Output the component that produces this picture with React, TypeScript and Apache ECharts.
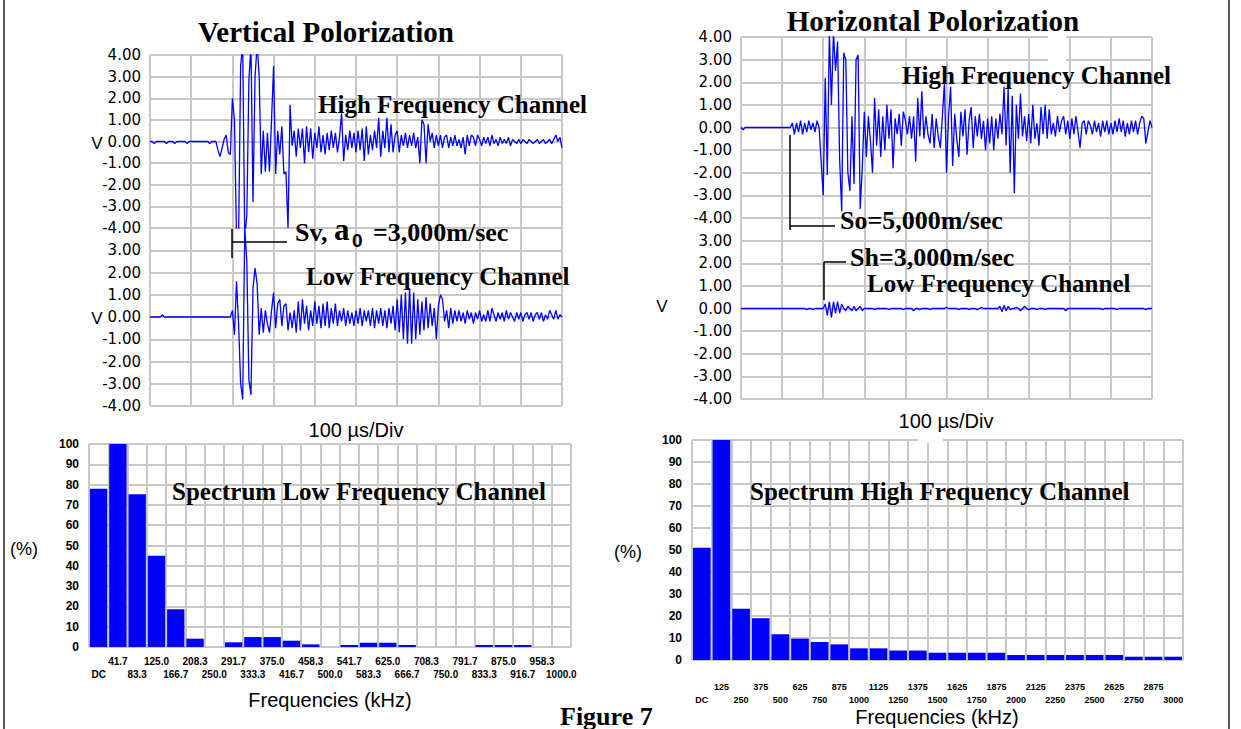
import React, { useEffect, useRef } from "react";
import * as echarts from "echarts";

// ---------- DATA ----------
const TIME_STEP_US = 5; // sample spacing of the waveforms (µs)

// Vertical polarization, high-frequency channel (V), one value every 5 µs, 0..1000 µs
const vertHighV = [
  0, 0, -0.1, 0, 0, 0, 0, 0, -0.1, 0,
  0, 0, -0.1, 0, 0, 0, 0, 0, -0.1, 0,
  0, 0, 0, 0, 0, 0, 0, 0, 0, -0.1,
  0, 0, 0, -0.4, -0.7, -0.3, 0.1, 0.3, -0.5, -0.6,
  2.0, 1.0, -4.5, -4.5, 3.5, 4.5, -4.5, -3.4, 2.8, 4.5,
  -2.8, 3.0, 4.5, 3.0, -1.5, 0.5, -1.4, 0.4, -1.4, 1.0,
  3.5, -1.5, 0.5, -0.6, 0.7, -1.5, -1.4, -4.0, 1.7, -0.2,
  0.5, -0.7, 0.6, -0.3, 0.6, -1.0, 0.7, -0.5, 0.6, -0.8,
  0.4, -0.3, 0.7, -0.5, 0.3, -0.6, 0.4, -0.4, 0.5, -0.3,
  0.4, -0.5, 0.2, 1.3, -0.9, 0.3, -0.4, 0.5, -0.3, 0.4,
  -0.5, 0.5, -0.4, 0.6, -0.9, 0.7, -0.6, 0.3, -0.4, 0.5,
  -0.3, 1.1, -0.7, 0.5, -0.3, 1.1, -0.5, 0.8, -0.5, 0.3,
  0.5, -0.5, 0.3, -0.2, 0.4, -0.3, 0.3, -0.2, 0.4, -0.3,
  0.2, -1.0, 1.0, 0.8, -1.0, 0.8, 0.0, 0.4, -0.3, 0.3,
  -0.2, 0.3, -0.3, 0.2, 0.3, -0.3, 0.2, -0.2, 0.3, -0.2,
  0.1, -0.3, 0.2, -0.6, 0.3, -0.2, 0.3, 0.2, -0.2, 0.3,
  0.1, -0.2, 0.2, -0.1, 0.2, -0.2, 0.3, -0.1, 0.1, -0.2,
  0.2, -0.1, 0.1, -0.1, 0.2, -0.2, 0.1, 0.0, -0.1, 0.1,
  -0.1, 0.1, 0.0, -0.1, 0.1, 0.0, -0.1, 0.0, 0.1, -0.1,
  0.0, 0.1, -0.1, 0.0, 0.1, -0.1, 0.1, 0.3, 0.0, 0.2,
  -0.3,
];

// Vertical polarization, low-frequency channel (V)
const vertLowV = [
  0, 0, 0, 0, 0, 0, 0.1, 0, 0, 0,
  0, 0, 0, 0, 0, 0, 0, 0, 0, 0,
  0, 0, 0, 0, 0, 0, 0, 0, 0, 0,
  0, 0, 0, 0, 0, 0, 0, 0, 0, 0,
  0.3, -0.8, 1.6, -0.3, -3.0, -3.7, 4.0, 2.5, -2.8, -3.5,
  1.3, 2.2, 1.5, -0.8, 0.4, -0.7, 0.3, -0.3, -0.7, 0.3,
  1.1, -0.5, 0.6, 0.8, -0.4, 0.5, 0.6, -0.6, 0.2, -0.5,
  0.3, -0.7, 0.7, -0.6, 0.8, -0.3, 0.5, -0.6, 0.3, -0.4,
  0.7, -0.3, 0.5, -0.5, 0.6, -0.4, 0.7, -0.5, 0.4, -0.3,
  0.6, -0.4, 0.3, -0.2, 0.4, -0.4, 0.3, -0.3, 0.2, -0.4,
  0.3, -0.3, 0.4, -0.4, 0.3, -0.2, 0.3, -0.4, 0.4, -0.5,
  0.3, -0.3, 0.4, -0.4, 0.3, -0.5, 0.4, -0.3, 0.5, -0.6,
  0.8, -0.7, 1.0, -1.0, 1.1, -1.2, 1.3, -1.2, 1.1, -1.0,
  0.8, -0.8, 0.7, -0.6, 0.9, -0.5, 0.6, -0.4, 0.4, -1.0,
  0.5, 1.0, 0.8, -0.2, 0.3, -0.5, 0.4, -0.3, 0.3, -0.2,
  0.3, -0.2, 0.2, -0.3, 0.3, -0.1, 0.2, -0.3, 0.2, -0.1,
  0.3, -0.2, 0.1, -0.2, 0.3, -0.2, 0.4, 0.1, -0.2, 0.2,
  -0.1, 0.2, -0.2, 0.3, -0.1, 0.2, 0.0, -0.2, 0.2, -0.1,
  0.2, -0.2, 0.1, 0.2, -0.1, 0.2, -0.2, 0.1, 0.2, -0.1,
  0.2, -0.2, 0.1, -0.1, 0.3, 0.1, -0.1, 0.3, -0.1, 0.1,
  0.0,
];

// Horizontal polarization, high-frequency channel (V)
const horzHighV = [
  0, -0.1, 0, 0, 0, 0, 0, 0, 0, 0,
  0, 0, 0, 0, 0, 0, 0, 0, 0, 0,
  0, 0, 0, 0, 0.0, 0.2, -0.3, 0.2, -0.2, 0.3,
  -0.3, 0.2, -0.2, 0.3, -0.1, 0.2, -0.2, 0.3, 0.0, -1.5,
  -3.0, 2.2, -2.1, 4.2, 1.0, 4.2, 2.5, 3.8, -1.4, -3.7,
  3.3, 3.0, -2.0, -2.8, 0.5, -2.5, 3.0, 3.2, -3.6, -1.8,
  0.7, -1.3, 0.5, -0.6, -2.0, 1.3, -0.8, 0.8, -1.3, 0.5,
  -1.0, 1.0, -0.5, 0.8, -1.8, 0.4, -0.3, 0.6, -0.8, 0.7,
  0.3, -0.3, 0.5, -0.5, 0.5, -1.5, 1.3, -0.4, 1.6, -0.5,
  0.5, -0.3, -0.7, 0.6, -0.9, 0.4, -0.4, -0.9, 0.5, 2.0,
  -2.0, 0.5, 1.8, -1.7, 0.6, -0.5, -1.3, 0.7, -0.4, 0.8,
  -1.2, 0.3, 0.9, -0.9, 0.5, -0.4, 0.6, -0.5, 0.3, -1.0,
  0.4, -0.7, 0.5, -1.0, 0.4, -0.5, 0.6, -0.3, 1.8, -0.8,
  1.7, -2.0, 1.4, -2.9, 1.0, -0.5, 1.5, -0.4, 0.5, -0.6,
  0.6, -0.7, 1.0, -0.5, 0.2, -0.8, 0.9, -0.3, 1.0, -0.5,
  0.8, -0.3, 0.2, -0.4, 0.5, -0.2, 0.3, 0.5, -0.3, 0.3,
  -0.5, 0.4, -0.3, 0.5, -0.2, -0.9, 0.2, 0.3, -0.3, 0.3,
  0.1, -0.3, 0.3, -0.2, 0.2, -0.4, 0.3, -0.2, 0.3, -0.3,
  0.2, -0.3, 0.3, -0.2, 0.4, -0.2, 0.3, -0.4, 0.2, -0.3,
  0.3, -0.2, 0.3, -0.3, 0.2, 0.5, 0.4, -0.7, -0.2, 0.3,
  0.0,
];

// Horizontal polarization, low-frequency channel (V)
const horzLowV = [
  0, 0, 0, 0, 0, 0, 0, 0, 0, 0,
  0, 0, 0, 0, 0, 0, 0, 0, 0, 0,
  0, 0, 0, 0, 0, 0, 0, 0, 0, 0,
  0, 0, -0.05, 0, 0, -0.05, 0, 0, 0, 0,
  0, 0.2, -0.3, 0.3, -0.4, 0.3, -0.2, 0.3, -0.2, 0.2,
  0, -0.1, 0.1, 0, -0.1, 0.1, -0.1, 0, 0.1, -0.1,
  0, 0, 0, 0, 0, -0.05, 0, 0, 0, 0,
  0, 0, -0.05, 0, 0, 0, 0, 0, 0, -0.05,
  0, 0, 0, 0, -0.1, 0, 0, -0.05, 0, 0,
  0, 0, -0.05, 0, 0, 0, 0, 0, 0, 0,
  0.05, 0, 0, 0, 0, 0, -0.05, 0, 0, 0,
  0, -0.05, 0, 0, 0, -0.05, 0, 0.05, 0, 0,
  0, 0, 0, 0, 0, 0, 0.1, -0.15, 0.15, -0.1,
  0.1, -0.05, 0, 0, 0.05, 0, -0.1, 0, 0.1, 0,
  -0.05, 0, 0, 0, -0.05, 0, 0, 0, -0.05, 0,
  0, 0, 0, 0, 0, 0, 0, 0, -0.1, 0,
  0, 0, 0, 0, 0, 0, 0, 0, 0, 0,
  0, 0, 0, 0, 0, 0, -0.05, 0, 0, 0,
  0, 0, 0, -0.05, 0, 0, 0, 0, 0, 0,
  0, 0, 0, 0, 0, 0, 0, -0.05, 0, 0,
  0,
];

// Spectrum of the low-frequency channel (%)
const lowFreqLabels = [
  "DC", "41.7", "83.3", "125.0", "166.7", "208.3", "250.0", "291.7", "333.3",
  "375.0", "416.7", "458.3", "500.0", "541.7", "583.3", "625.0", "666.7",
  "708.3", "750.0", "791.7", "833.3", "875.0", "916.7", "958.3", "1000.0",
];
const lowSpectrum = [
  78, 100, 75.3, 45, 18.6, 4.1, 0, 2.3, 4.9, 4.9, 3.1, 1.3, 0,
  1.0, 2.1, 2.1, 1.0, 0, 0, 0, 1.0, 1.0, 1.0, 0, 0,
];

// Spectrum of the high-frequency channel (%)
const highFreqLabels = [
  "DC", "125", "250", "375", "500", "625", "750", "875", "1000", "1125",
  "1250", "1375", "1500", "1625", "1750", "1875", "2000", "2125", "2250",
  "2375", "2500", "2625", "2750", "2875", "3000",
];
const highSpectrum = [
  51, 100, 23.3, 19, 11.7, 9.7, 8.2, 7.1, 5.3, 5.3, 4.3, 4.3, 3.3,
  3.3, 3.3, 3.3, 2.3, 2.3, 2.3, 2.3, 2.3, 2.3, 1.5, 1.5, 1.5,
];

// ---------- STYLE ----------
const BLUE = "#0000ff";
const GRID_COLOR = "#c8c8c8";
const SERIF_BOLD = '"Liberation Serif", "Times New Roman", serif';
const SANS = '"Liberation Sans", Arial, sans-serif';

function toPoints(values: number[]) {
  return values.map((v, i) => [i * TIME_STEP_US, v]);
}

function txt(text: string, x: number, y: number, font: string, align = "left", vAlign = "middle") {
  return {
    type: "text",
    x,
    y,
    z: 100,
    silent: true,
    style: {
      text,
      font,
      fill: "#000",
      textAlign: align,
      align,
      textVerticalAlign: vAlign,
      verticalAlign: vAlign,
    },
  };
}

function ln(x1: number, y1: number, x2: number, y2: number, color = "#000", w = 1.5) {
  return {
    type: "line",
    z: 100,
    silent: true,
    shape: { x1, y1, x2, y2 },
    style: { stroke: color, lineWidth: w },
  };
}

function waveX(gridIndex: number) {
  return {
    type: "value",
    gridIndex,
    min: 0,
    max: 1000,
    interval: 100,
    axisLabel: { show: false },
    axisLine: { show: false },
    axisTick: { show: false },
    splitLine: { show: true, lineStyle: { color: GRID_COLOR, width: 2 } },
  };
}

function waveY(gridIndex: number, hideTop: boolean) {
  return {
    type: "value",
    gridIndex,
    min: -4,
    max: 4,
    interval: 1,
    axisLine: { show: false },
    axisTick: { show: false },
    splitLine: { show: true, lineStyle: { color: GRID_COLOR, width: 2 } },
    axisLabel: {
      margin: 9,
      color: "#000",
      fontSize: 15,
      fontFamily: '"DejaVu Sans", sans-serif',
      formatter: (v: number) => (hideTop && v === 4 ? "" : v.toFixed(2)),
    },
  };
}

function barX(gridIndex: number, labels: string[], margin: number, fontSize: number) {
  return {
    type: "category",
    gridIndex,
    data: labels,
    boundaryGap: true,
    axisLine: { show: false },
    axisTick: { show: false },
    splitLine: { show: true, interval: 0, lineStyle: { color: GRID_COLOR, width: 2 } },
    axisLabel: {
      interval: 0,
      margin,
      color: "#000",
      fontSize,
      fontWeight: "bold",
      fontFamily: SANS,
      lineHeight: 13,
      formatter: (v: string, i: number) => (i % 2 === 1 ? v + "\n" : "\n" + v),
    },
  };
}

function barY(gridIndex: number) {
  return {
    type: "value",
    gridIndex,
    min: 0,
    max: 100,
    interval: 10,
    axisLine: { show: false },
    axisTick: { show: false },
    splitLine: { show: true, lineStyle: { color: GRID_COLOR, width: 2 } },
    axisLabel: { margin: 10, color: "#000", fontSize: 12, fontWeight: "bold", fontFamily: SANS },
  };
}

function lineSeries(idx: number, values: number[]) {
  return {
    type: "line",
    xAxisIndex: idx,
    yAxisIndex: idx,
    data: toPoints(values),
    showSymbol: false,
    symbol: "none",
    clip: true,
    silent: true,
    lineStyle: { color: BLUE, width: 1.3 },
    itemStyle: { color: BLUE },
  };
}

function barSeries(idx: number, values: number[]) {
  return {
    type: "bar",
    xAxisIndex: idx,
    yAxisIndex: idx,
    data: values,
    barCategoryGap: "10%",
    silent: true,
    itemStyle: { color: BLUE },
  };
}

export default function App() {
  const ref = useRef<HTMLDivElement>(null);

  useEffect(() => {
    document.body.style.margin = "0";
    document.body.style.overflow = "hidden";
    if (!ref.current) return;
    const chart = echarts.init(ref.current, null, { renderer: "svg" });

    const titleFont = `bold 29px ${SERIF_BOLD}`;
    const labelFont = `bold 25px ${SERIF_BOLD}`;
    const speedFont = `bold 26px ${SERIF_BOLD}`;
    const sansFont = `20px ${SANS}`;
    const axisNameFont = `20px ${SANS}`;

    const graphic: any[] = [
      // titles
      txt("Vertical Polorization", 326, 32, titleFont, "center"),
      txt("Horizontal Polorization", 933, 21, titleFont, "center"),
      // V labels
      txt("V", 97, 143, `17px ${SANS}`, "center"),
      txt("V", 97, 318, `17px ${SANS}`, "center"),
      txt("V", 662, 306, `17px ${SANS}`, "center"),
      // channel labels
      txt("High Frequency Channel", 318, 104, labelFont),
      txt("Low Frequency Channel", 306, 276, labelFont),
      txt("High Frequency Channel", 902, 75, labelFont),
      txt("Low Frequency Channel", 867, 283, labelFont),
      // Sv annotation
      ln(232, 229, 232, 258),
      ln(232, 242, 287, 242),
      txt("Sv,", 295, 232, speedFont),
      txt("a", 334, 229, `bold 31px ${SERIF_BOLD}`),
      txt("0", 352, 240, `bold 19px ${SANS}`),
      txt("=3,000m/sec", 373, 232, speedFont),
      // So / Sh annotations
      ln(790, 135, 790, 230),
      ln(790, 226, 835, 226),
      txt("So=5,000m/sec", 840, 220, speedFont),
      ln(824, 262, 824, 300),
      ln(824, 262, 846, 262),
      txt("Sh=3,000m/sec", 850, 257, speedFont),
      // time-base labels
      txt("100 µs/Div", 356, 430, sansFont, "center"),
      txt("100 µs/Div", 946, 421, sansFont, "center"),
      // spectrum labels
      txt("Spectrum Low Frequency Channel", 172, 491, labelFont),
      txt("Spectrum High Frequency Channel", 750, 491, labelFont),
      txt("(%)", 38, 549, `18px ${SANS}`, "right"),
      txt("(%)", 628, 552, `18px ${SANS}`, "center"),
      txt("Frequencies (kHz)", 330, 700, axisNameFont, "center"),
      txt("Frequencies (kHz)", 937, 717, axisNameFont, "center"),
      txt("Figure 7", 560, 703, `bold 26px ${SERIF_BOLD}`, "left", "top"),
      // page frame lines
      ln(4, 0, 4, 729, "#222", 1.5),
      ln(1229, 0, 1229, 729, "#222", 1.5),
      // white gaps seen in the scan
      { type: "rect", z: 90, silent: true, shape: { x: 1048, y: 36, width: 18, height: 26 }, style: { fill: "#fff" } },
      { type: "rect", z: 90, silent: true, shape: { x: 918, y: 431, width: 25, height: 12 }, style: { fill: "#fff" } },
    ];

    const option: any = {
      animation: false,
      backgroundColor: "#ffffff",
      grid: [
        { left: 150, top: 55, width: 412, height: 173 },
        { left: 150, top: 228, width: 412, height: 178 },
        { left: 741, top: 37, width: 411, height: 181 },
        { left: 741, top: 218, width: 411, height: 181 },
        { left: 89, top: 444, width: 482, height: 203 },
        { left: 692, top: 440, width: 491, height: 220 },
      ],
      xAxis: [
        waveX(0),
        waveX(1),
        waveX(2),
        waveX(3),
        barX(4, lowFreqLabels, 8, 10),
        barX(5, highFreqLabels, 20, 9),
      ],
      yAxis: [waveY(0, false), waveY(1, true), waveY(2, false), waveY(3, true), barY(4), barY(5)],
      series: [
        lineSeries(0, vertHighV),
        lineSeries(1, vertLowV),
        lineSeries(2, horzHighV),
        lineSeries(3, horzLowV),
        barSeries(4, lowSpectrum),
        barSeries(5, highSpectrum),
      ],
      graphic,
    };

    chart.setOption(option);
    return () => {
      chart.dispose();
    };
  }, []);

  return <div ref={ref} style={{ width: 1241, height: 729 }} />;
}
